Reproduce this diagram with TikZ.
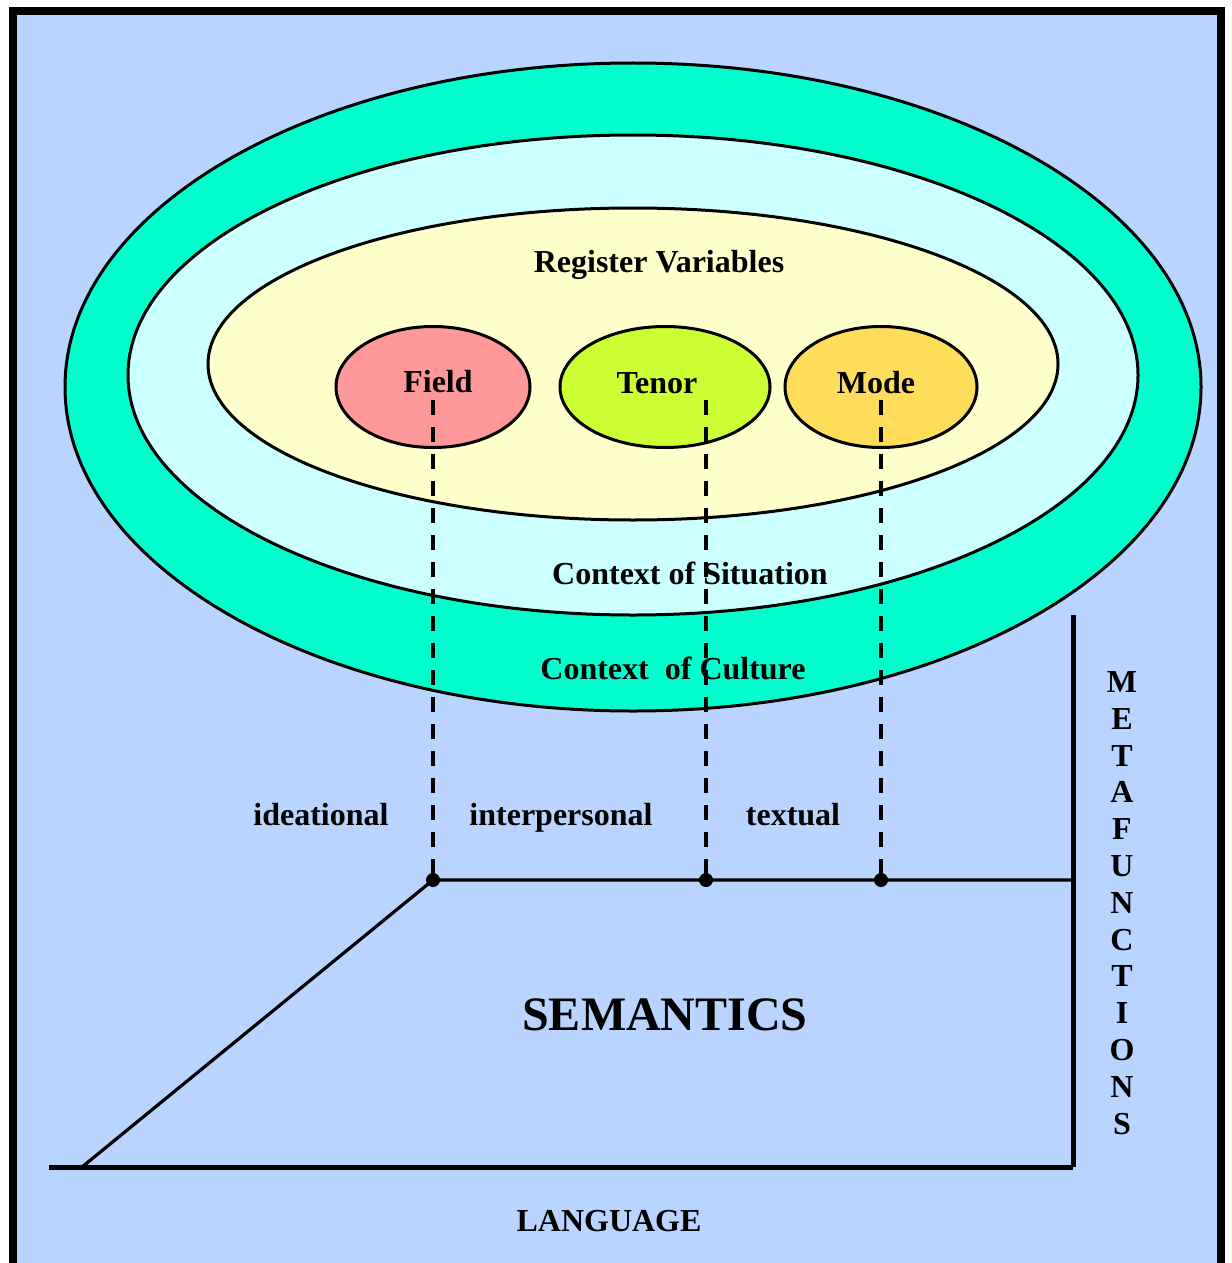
\documentclass[tikz,border=0pt]{standalone}
\usepackage{fontspec}
\setmainfont{Liberation Serif}
\usetikzlibrary{shapes.geometric}
\definecolor{bgblue}{RGB}{185,213,255}
\definecolor{culturecol}{RGB}{0,255,204}
\definecolor{situcol}{RGB}{204,255,255}
\definecolor{regcol}{RGB}{255,255,204}
\definecolor{fieldcol}{RGB}{255,153,153}
\definecolor{tenorcol}{RGB}{204,255,51}
\definecolor{modecol}{RGB}{255,221,90}
\tikzset{
  ell/.style={ellipse, draw=black, line width=1.5pt, inner sep=0pt},
  lbl/.style={font=\fontsize{16}{18}\selectfont\bfseries, inner sep=0pt, text height=11pt, text depth=0pt},
  dashline/.style={line width=1.75pt, dash pattern=on 7.5pt off 6pt},
  dotnode/.style={circle, fill=black, inner sep=0pt, minimum size=7pt},
}
\begin{document}
\begin{tikzpicture}[x=0.5pt,y=-0.5pt]
\useasboundingbox (0,0) rectangle (1231,1263);
\fill[white] (0,0) rectangle (1231,1263);
% frame
\fill[bgblue] (13,1263) -- (13,11) -- (1221,11) -- (1221,1263) -- cycle;
\draw[line width=4pt] (13,1263) -- (13,11) -- (1221,11) -- (1221,1263);
% ellipses
\node[ell, fill=culturecol, minimum width=568pt, minimum height=324pt] (culture) at (633,387) {};
\node[ell, fill=situcol, minimum width=505pt, minimum height=240pt] (situation) at (633,375) {};
\node[ell, fill=regcol, minimum width=425pt, minimum height=156pt] (register) at (633,364) {};
\node[ell, fill=fieldcol, minimum width=97pt, minimum height=60.5pt] (fieldell) at (433,387) {};
\node[ell, fill=tenorcol, minimum width=105pt, minimum height=60.5pt] (tenorell) at (665,387) {};
\node[ell, fill=modecol, minimum width=96pt, minimum height=60.5pt] (modeell) at (881,387) {};
% labels
\node[lbl] (reglbl) at (659,261) {Register Variables};
\node[lbl] (fieldlbl) at (438,381) {Field};
\node[lbl] (tenorlbl) at (657,382) {Tenor};
\node[lbl] (modelbl) at (876,382) {Mode};
\node[lbl, fill=situcol, inner sep=4pt] (situlbl) at (690,573) {Context of Situation};
\node[lbl] (culturelbl) at (673,668) {Context\ \ of Culture};
\node[lbl] (ideational) at (321,814) {ideational};
\node[lbl] (interpersonal) at (561,814) {interpersonal};
\node[lbl] (textual) at (793,814) {textual};
\node[font=\fontsize{24}{28}\selectfont\bfseries, inner sep=0pt] (semantics) at (665,1015) {SEMANTICS};
\node[lbl] (language) at (609,1220) {LANGUAGE};
\node[align=center, inner sep=0pt, font=\fontsize{16}{18.4}\selectfont\bfseries] (meta) at (1122,903)
  {M\\E\\T\\A\\F\\U\\N\\C\\T\\I\\O\\N\\S};
% coordinates
\coordinate (ftop) at (433,400);
\coordinate (ttop) at (706,400);
\coordinate (mtop) at (881,400);
\node[dotnode] (fdot) at (433,880) {};
\node[dotnode] (tdot) at (706,880) {};
\node[dotnode] (mdot) at (881,880) {};
\coordinate (rjoin) at (1073,880);
\coordinate (vtop) at (1073,615);
\coordinate (vbot) at (1073,1167);
\coordinate (hleft) at (49,1167);
\coordinate (dfoot) at (82,1167);
% dashed lines
\draw[dashline] (ftop) -- (fdot.center);
\draw[dashline] (ttop) -- (tdot.center);
\draw[dashline] (mtop) -- (mdot.center);
% semantics plane
\draw[line width=1.6pt] (dfoot) -- (fdot.center) -- (tdot.center) -- (mdot.center) -- (rjoin);
\draw[line width=2.5pt] (hleft) -- (vbot);
\draw[line width=2.5pt] (vtop) -- (vbot);
\end{tikzpicture}
\end{document}
